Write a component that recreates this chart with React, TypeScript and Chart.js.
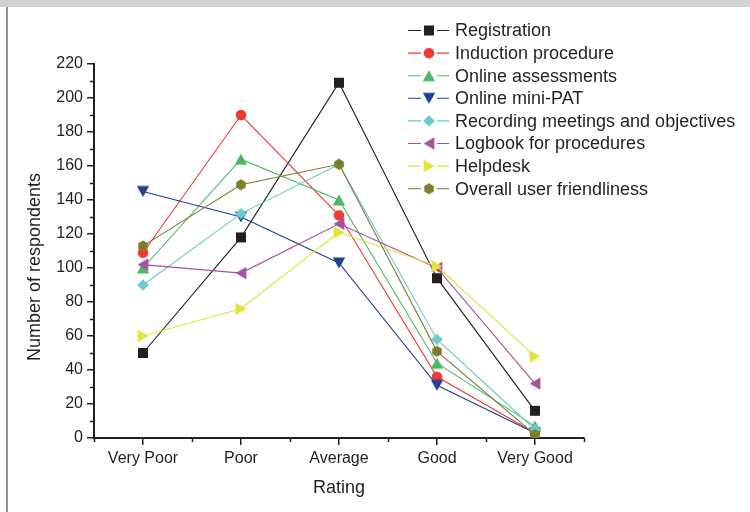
import React, { useEffect, useRef } from 'react';
import { Chart, registerables } from 'chart.js';

Chart.register(...registerables);

const categories = ['Very Poor', 'Poor', 'Average', 'Good', 'Very Good'];

const registration = [50, 118, 209, 94, 16];
const induction = [109, 190, 131, 36, 3];
const onlineAssessments = [100, 164, 140, 44, 7];
const miniPat = [145, 130, 103, 31, 3];
const recordingMeetings = [90, 132, 161, 58, 5];
const logbook = [102, 97, 126, 100, 32];
const helpdesk = [60, 76, 121, 101, 48];
const overall = [113, 149, 161, 51, 2];

const seriesNames = [
  'Registration',
  'Induction procedure',
  'Online assessments',
  'Online mini-PAT',
  'Recording meetings and objectives',
  'Logbook for procedures',
  'Helpdesk',
  'Overall user friendliness',
];
const seriesValues = [
  registration,
  induction,
  onlineAssessments,
  miniPat,
  recordingMeetings,
  logbook,
  helpdesk,
  overall,
];
const seriesColors = [
  '#231f20',
  '#ee3a32',
  '#4cb966',
  '#21409a',
  '#6ccbcb',
  '#a6519e',
  '#e3e43a',
  '#7d7d2e',
];
const seriesMarkers = [
  'square',
  'circle',
  'triangleUp',
  'triangleDown',
  'diamond',
  'triangleLeft',
  'triangleRight',
  'hexagon',
];

const yMin = 0;
const yMax = 220;
const yStep = 20;
const yMinorStep = 10;

const xTitle = 'Rating';
const yTitle = 'Number of respondents';

const FONT = "'Liberation Sans', Arial, Helvetica, sans-serif";
const TEXT = '#231f20';

function makeMarker(shape: string, color: string): HTMLCanvasElement {
  const s = 16;
  const c = document.createElement('canvas');
  c.width = s;
  c.height = s;
  const ctx = c.getContext('2d')!;
  const cx = s / 2;
  const cy = s / 2;
  ctx.fillStyle = color;
  ctx.beginPath();
  if (shape === 'square') {
    const h = 5;
    ctx.rect(cx - h, cy - h, 2 * h, 2 * h);
  } else if (shape === 'circle') {
    ctx.arc(cx, cy, 5.3, 0, Math.PI * 2);
  } else if (shape === 'diamond') {
    const r = 5.8;
    ctx.moveTo(cx, cy - r);
    ctx.lineTo(cx + r, cy);
    ctx.lineTo(cx, cy + r);
    ctx.lineTo(cx - r, cy);
  } else if (shape === 'hexagon') {
    const r = 5.5;
    for (let k = 0; k < 6; k++) {
      const a = -Math.PI / 2 + (k * Math.PI) / 3;
      const px = cx + r * Math.cos(a);
      const py = cy + r * Math.sin(a);
      if (k === 0) ctx.moveTo(px, py);
      else ctx.lineTo(px, py);
    }
  } else {
    const w = 6.2; // half side
    const h = 5.4; // half height
    if (shape === 'triangleUp') {
      ctx.moveTo(cx, cy - h);
      ctx.lineTo(cx + w, cy + h);
      ctx.lineTo(cx - w, cy + h);
    } else if (shape === 'triangleDown') {
      ctx.moveTo(cx - w, cy - h);
      ctx.lineTo(cx + w, cy - h);
      ctx.lineTo(cx, cy + h);
    } else if (shape === 'triangleLeft') {
      ctx.moveTo(cx - h, cy);
      ctx.lineTo(cx + h, cy - w);
      ctx.lineTo(cx + h, cy + w);
    } else {
      ctx.moveTo(cx + h, cy);
      ctx.lineTo(cx - h, cy - w);
      ctx.lineTo(cx - h, cy + w);
    }
  }
  ctx.closePath();
  ctx.fill();
  return c;
}

export default function App() {
  const canvasRef = useRef<HTMLCanvasElement | null>(null);

  useEffect(() => {
    document.body.style.margin = '0';
    const canvas = canvasRef.current;
    if (!canvas) return;

    const markers = seriesMarkers.map((m, i) => makeMarker(m, seriesColors[i]));

    const datasets = seriesNames.map((name, i) => ({
      label: name,
      data: seriesValues[i],
      borderColor: seriesColors[i],
      backgroundColor: seriesColors[i],
      borderWidth: 1.1,
      pointStyle: markers[i] as any,
      pointRadius: 6,
      tension: 0,
      order: seriesNames.length - i,
    }));

    const decorations = {
      id: 'decorations',
      beforeDraw(chart: any) {
        const ctx = chart.ctx as CanvasRenderingContext2D;
        ctx.save();
        ctx.fillStyle = '#ffffff';
        ctx.fillRect(0, 0, chart.width, chart.height);
        ctx.fillStyle = '#d1d3d4';
        ctx.fillRect(0, 0, chart.width, 7);
        ctx.strokeStyle = '#6d6e71';
        ctx.lineWidth = 1.5;
        ctx.beginPath();
        ctx.moveTo(7, 7);
        ctx.lineTo(7, chart.height);
        ctx.stroke();
        ctx.restore();
      },
      afterDraw(chart: any) {
        const ctx = chart.ctx as CanvasRenderingContext2D;
        const area = chart.chartArea;
        const xs = chart.scales.x;
        const ys = chart.scales.y;
        ctx.save();
        // minor ticks
        ctx.strokeStyle = TEXT;
        ctx.lineWidth = 1.5;
        ctx.beginPath();
        for (let v = yMinorStep; v < yMax; v += yStep) {
          const py = Math.round(ys.getPixelForValue(v)) + 0.5;
          ctx.moveTo(area.left, py);
          ctx.lineTo(area.left - 4, py);
        }
        const n = categories.length;
        for (let k = 0; k <= n; k++) {
          const px = Math.round(xs.getPixelForValue(k - 0.5)) + 0.5;
          ctx.moveTo(px, area.bottom);
          ctx.lineTo(px, area.bottom + 4);
        }
        ctx.stroke();

        // axis titles
        ctx.fillStyle = TEXT;
        ctx.font = `18px ${FONT}`;
        ctx.textAlign = 'center';
        ctx.textBaseline = 'middle';
        ctx.fillText(xTitle, (area.left + area.right) / 2, 488);
        ctx.save();
        ctx.translate(35, 267);
        ctx.rotate(-Math.PI / 2);
        ctx.fillText(yTitle, 0, 0);
        ctx.restore();

        // legend
        ctx.textAlign = 'left';
        ctx.font = `18px ${FONT}`;
        for (let i = 0; i < seriesNames.length; i++) {
          const y = 30.5 + i * 22.6;
          ctx.strokeStyle = seriesColors[i];
          ctx.lineWidth = 1.1;
          ctx.beginPath();
          ctx.moveTo(408, y);
          ctx.lineTo(421, y);
          ctx.moveTo(437, y);
          ctx.lineTo(449, y);
          ctx.stroke();
          const m = markers[i];
          ctx.drawImage(m, 429 - m.width / 2, y - m.height / 2);
          ctx.fillStyle = TEXT;
          ctx.fillText(seriesNames[i], 455, y + 1);
        }
        ctx.restore();
      },
    };

    const chart = new Chart(canvas, {
      type: 'line',
      data: { labels: categories, datasets: datasets as any },
      plugins: [decorations],
      options: {
        responsive: false,
        animation: false,
        layout: { padding: { left: 0, top: 64, right: 166, bottom: 0 } },
        plugins: {
          legend: { display: false },
          tooltip: { enabled: false },
          title: { display: false },
        },
        scales: {
          x: {
            type: 'category',
            offset: true,
            grid: {
              display: true,
              drawOnChartArea: false,
              drawTicks: true,
              tickLength: 7,
              color: TEXT,
              lineWidth: 1.5,
              offset: false,
            },
            border: { display: true, color: TEXT, width: 2 },
            ticks: {
              color: TEXT,
              font: { family: FONT, size: 16 },
              padding: 4,
              maxRotation: 0,
              autoSkip: false,
            },
            afterFit: (s: any) => {
              s.height = 74;
            },
          },
          y: {
            min: yMin,
            max: yMax,
            grid: {
              display: true,
              drawOnChartArea: false,
              drawTicks: true,
              tickLength: 7,
              color: TEXT,
              lineWidth: 1.5,
            },
            border: { display: true, color: TEXT, width: 2 },
            ticks: {
              stepSize: yStep,
              color: TEXT,
              font: { family: FONT, size: 16 },
              padding: 4,
            },
            afterFit: (s: any) => {
              s.width = 94;
            },
          },
        },
      },
    });

    return () => {
      chart.destroy();
    };
  }, []);

  return (
    <div style={{ width: 750, height: 512 }}>
      <canvas ref={canvasRef} width={750} height={512} style={{ display: 'block' }} />
    </div>
  );
}
